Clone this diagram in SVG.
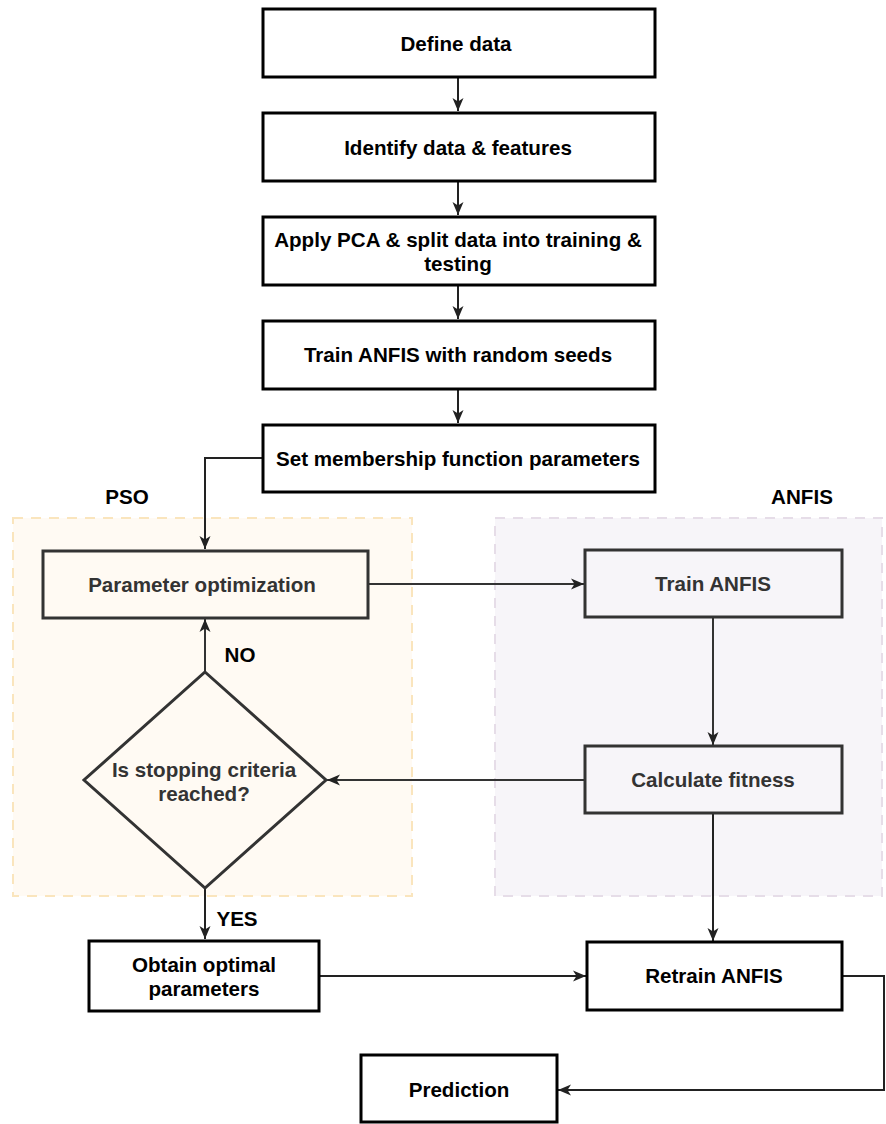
<svg xmlns="http://www.w3.org/2000/svg" width="886" height="1124" viewBox="0 0 886 1124">
  <style>
    .box { fill: #ffffff; stroke: #000000; stroke-width: 3; }
    .inner { fill: none; stroke: #333333; stroke-width: 3; }
    .lbl { font-family: "Liberation Sans", Arial, Helvetica, sans-serif; font-weight: bold; font-size: 20.6px; fill: #000000; text-anchor: middle; }
    .lbl-dark { fill: #333333; }
    .edge { fill: none; stroke: #222222; stroke-width: 2; }
    .edge-dark { stroke: #333333; }
  </style>
  <defs>
    <marker id="arrow" markerUnits="userSpaceOnUse" markerWidth="15" markerHeight="15" viewBox="0 0 15 15" refX="14" refY="7.5" orient="auto">
      <path d="M1,2 L14,7.5 L1,13 L4.5,7.5 Z" fill="#222222"/>
    </marker>
  </defs>

  <rect width="886" height="1124" fill="#ffffff"/>

  <!-- swimlane containers -->
  <g id="pso-group">
    <rect x="13" y="518" width="399" height="378" fill="#fffaf3" stroke="#fae5bd" stroke-width="2" stroke-dasharray="10 8"/>
    <text class="lbl" x="127" y="504">PSO</text>
  </g>
  <g id="anfis-group">
    <rect x="495" y="518" width="387" height="378" fill="#f7f5f9" stroke="#e6dde8" stroke-width="2" stroke-dasharray="10 8"/>
    <text class="lbl" x="802" y="504">ANFIS</text>
  </g>

  <!-- connectors -->
  <g id="connectors">
    <path class="edge" d="M458,78 V111" marker-end="url(#arrow)"/>
    <path class="edge" d="M458,182 V215" marker-end="url(#arrow)"/>
    <path class="edge" d="M458,286 V319" marker-end="url(#arrow)"/>
    <path class="edge" d="M458,390 V423" marker-end="url(#arrow)"/>
    <path class="edge" d="M263,458 H205 V549" marker-end="url(#arrow)"/>
    <path class="edge edge-dark" d="M369,584 H584" marker-end="url(#arrow)"/>
    <path class="edge edge-dark" d="M713,618 V745" marker-end="url(#arrow)"/>
    <path class="edge edge-dark" d="M585,780 H327" marker-end="url(#arrow)"/>
    <path class="edge edge-dark" d="M205,672 V619" marker-end="url(#arrow)"/>
    <path class="edge" d="M205,888 V939" marker-end="url(#arrow)"/>
    <path class="edge" d="M320,976 H586" marker-end="url(#arrow)"/>
    <path class="edge" d="M713,814 V941" marker-end="url(#arrow)"/>
    <path class="edge" d="M842,976 H884 V1090 H558" marker-end="url(#arrow)"/>
    <text class="lbl" x="240" y="662">NO</text>
    <text class="lbl" x="237" y="926">YES</text>
  </g>

  <!-- main pipeline -->
  <g id="define-data">
    <rect class="box" x="263" y="9" width="392" height="68"/>
    <text class="lbl" x="456" y="51">Define data</text>
  </g>
  <g id="identify-data">
    <rect class="box" x="263" y="113" width="392" height="68"/>
    <text class="lbl" x="458" y="155">Identify data &amp; features</text>
  </g>
  <g id="apply-pca">
    <rect class="box" x="263" y="217" width="392" height="68"/>
    <text class="lbl" x="458" y="247">Apply PCA &amp; split data into training &amp;</text>
    <text class="lbl" x="458" y="271">testing</text>
  </g>
  <g id="train-random">
    <rect class="box" x="263" y="321" width="392" height="68"/>
    <text class="lbl" x="458" y="362">Train ANFIS with random seeds</text>
  </g>
  <g id="set-membership">
    <rect class="box" x="263" y="425" width="392" height="67"/>
    <text class="lbl" x="458" y="466">Set membership function parameters</text>
  </g>

  <!-- PSO loop -->
  <g id="parameter-optimization">
    <rect class="inner" x="43" y="551" width="325" height="67"/>
    <text class="lbl lbl-dark" x="202" y="592">Parameter optimization</text>
  </g>
  <g id="stopping-criteria">
    <polygon class="inner" points="205,672 326,780 205,888 84,780"/>
    <text class="lbl lbl-dark" x="204" y="777">Is stopping criteria</text>
    <text class="lbl lbl-dark" x="204" y="801">reached?</text>
  </g>

  <!-- ANFIS loop -->
  <g id="train-anfis">
    <rect class="inner" x="585" y="550" width="257" height="67"/>
    <text class="lbl lbl-dark" x="713" y="591">Train ANFIS</text>
  </g>
  <g id="calculate-fitness">
    <rect class="inner" x="585" y="746" width="257" height="67"/>
    <text class="lbl lbl-dark" x="713" y="787">Calculate fitness</text>
  </g>

  <!-- results -->
  <g id="obtain-optimal">
    <rect class="box" x="89" y="941" width="230" height="70"/>
    <text class="lbl" x="204" y="972">Obtain optimal</text>
    <text class="lbl" x="204" y="996">parameters</text>
  </g>
  <g id="retrain-anfis">
    <rect class="box" x="587" y="942" width="255" height="68"/>
    <text class="lbl" x="714" y="983">Retrain ANFIS</text>
  </g>
  <g id="prediction">
    <rect class="box" x="361" y="1055" width="196" height="67"/>
    <text class="lbl" x="459" y="1097">Prediction</text>
  </g>
</svg>
